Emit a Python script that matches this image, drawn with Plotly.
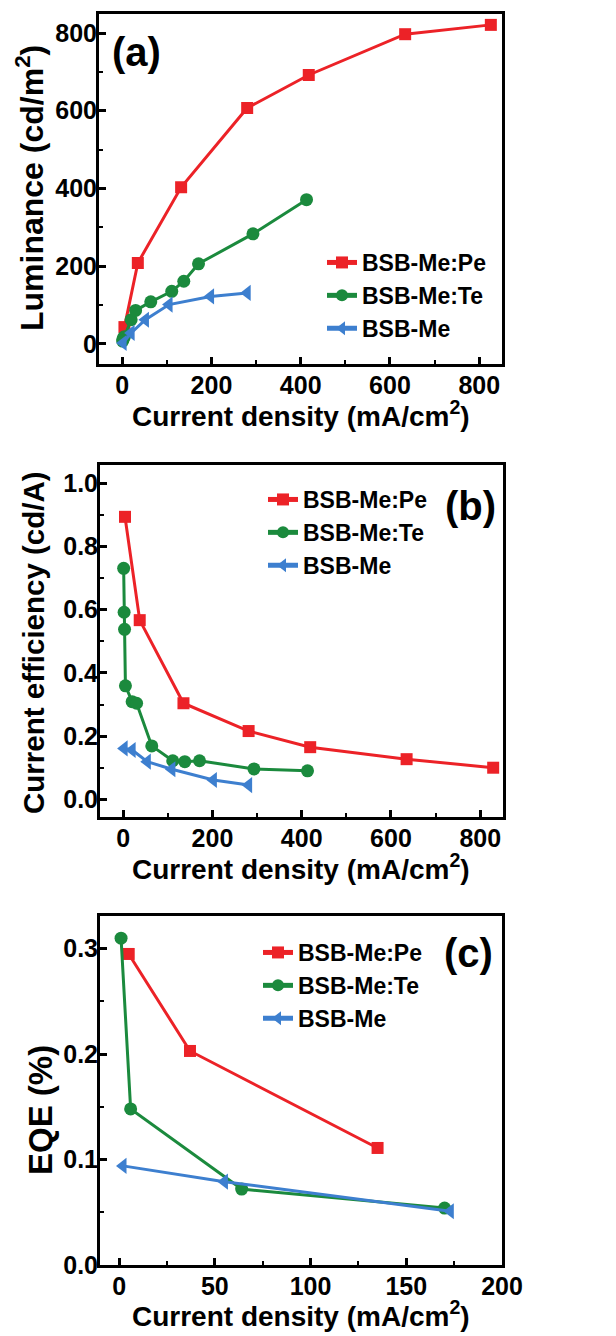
import plotly.graph_objects as go

# ---- data ----
series_names = ["BSB-Me:Pe", "BSB-Me:Te", "BSB-Me"]

# (a) Luminance vs current density
a_pe_x = [5, 35, 132, 280, 418, 634, 826]
a_pe_y = [43, 208, 403, 607, 692, 797, 821]
a_te_x = [1, 2, 3, 5, 20, 30, 64, 111, 138, 171, 293, 413]
a_te_y = [7, 12, 16, 18, 62, 86, 108, 135, 161, 206, 283, 371]
a_me_x = [2, 20, 52, 105, 198, 280]
a_me_y = [2, 28, 62, 101, 122, 131]

# (b) Current efficiency vs current density
b_pe_x = [4, 37, 135, 281, 419, 635, 829]
b_pe_y = [0.894, 0.567, 0.304, 0.216, 0.165, 0.127, 0.100]
b_te_x = [1, 2, 3, 5, 20, 30, 64, 111, 138, 171, 293, 413]
b_te_y = [0.731, 0.592, 0.538, 0.359, 0.309, 0.304, 0.169, 0.122, 0.119, 0.122, 0.096, 0.090]
b_me_x = [2, 20, 54, 109, 202, 281]
b_me_y = [0.161, 0.156, 0.119, 0.095, 0.061, 0.045]

# (c) EQE vs current density
c_pe_x = [5, 37, 135]
c_pe_y = [0.295, 0.203, 0.111]
c_te_x = [1, 6, 64, 170]
c_te_y = [0.310, 0.148, 0.072, 0.054]
c_me_x = [2, 55, 173]
c_me_y = [0.094, 0.079, 0.051]

panel_labels = ["(a)", "(b)", "(c)"]
y_titles = ["Luminance (cd/m<sup>2</sup>)", "Current efficiency (cd/A)", "EQE (%)"]
x_title = "Current density (mA/cm<sup>2</sup>)"

# ---- styling ----
colors = ["#ec2227", "#1b8a3d", "#3d7fcf"]
symbols = ["square", "circle", "triangle-left"]
msizes = [12, 13, 14]
FONT = "Liberation Sans, Arial, sans-serif"

# page body has an 8px margin; figure coordinates = page coordinates - 8
OFF = 8
W, H = 600, 1336
def px_x(p):
    return (p - OFF) / W
def px_y(p):
    return 1 - (p - OFF) / H

# plot boxes in page pixels: (left, right, top, bottom)
boxes = [(99, 502, 14, 364), (100, 503, 465, 817), (100, 502, 916, 1265)]

fig = go.Figure()

data = [
    [(a_pe_x, a_pe_y), (a_te_x, a_te_y), (a_me_x, a_me_y)],
    [(b_pe_x, b_pe_y), (b_te_x, b_te_y), (b_me_x, b_me_y)],
    [(c_pe_x, c_pe_y), (c_te_x, c_te_y), (c_me_x, c_me_y)],
]
legend_ids = ["legend", "legend2", "legend3"]

for p in range(3):
    xa = "x" if p == 0 else f"x{p+1}"
    ya = "y" if p == 0 else f"y{p+1}"
    for s in range(3):
        xs, ys = data[p][s]
        fig.add_trace(go.Scatter(
            x=xs, y=ys, mode="lines+markers", name=series_names[s],
            line=dict(color=colors[s], width=3),
            marker=dict(symbol=symbols[s], size=msizes[s], color=colors[s]),
            xaxis=xa, yaxis=ya, legend=legend_ids[p],
        ))

axis_common = dict(
    showline=True, linecolor="black", linewidth=3, mirror=True,
    ticks="inside", ticklen=7, tickwidth=2.5, tickcolor="black",
    showgrid=False, zeroline=False, automargin=False,
    tickfont=dict(family=FONT, size=25, color="black", weight="bold"),
)
minor_common = dict(ticks="inside", ticklen=4, tickwidth=2, tickcolor="black", showgrid=False)

x_ranges = [[-52, 851], [-52, 851], [-10, 200]]
x_dticks = [200, 200, 50]
y_ranges = [[-52, 849], [-0.056, 1.058], [0, 0.331]]
y_dticks = [200, 0.2, 0.1]
y_formats = ["d", ".1f", ".1f"]

layout = dict(
    width=W, height=H, margin=dict(l=0, r=0, t=0, b=0),
    paper_bgcolor="white", plot_bgcolor="white",
    font=dict(family=FONT, color="black"),
)

for p in range(3):
    l, r, t, b = boxes[p]
    xkey = "xaxis" if p == 0 else f"xaxis{p+1}"
    ykey = "yaxis" if p == 0 else f"yaxis{p+1}"
    xa_anchor = "y" if p == 0 else f"y{p+1}"
    ya_anchor = "x" if p == 0 else f"x{p+1}"
    layout[xkey] = dict(
        axis_common, domain=[px_x(l), px_x(r)], anchor=xa_anchor,
        range=x_ranges[p], dtick=x_dticks[p], tick0=0, ticklabelstandoff=-3,
        minor=dict(minor_common, dtick=x_dticks[p] / 2),
    )
    layout[ykey] = dict(
        axis_common, domain=[px_y(b), px_y(t)], anchor=ya_anchor,
        range=y_ranges[p], dtick=y_dticks[p], tick0=0, tickformat=y_formats[p],
        ticklabelstandoff=-6,
        minor=dict(minor_common, dtick=y_dticks[p] / 2),
    )

# legends (page pixel positions of top-left)
leg_pos = [(322, 241), (263, 478), (258, 931)]
for p in range(3):
    key = "legend" if p == 0 else f"legend{p+1}"
    lx, ly = leg_pos[p]
    layout[key] = dict(
        x=px_x(lx), y=px_y(ly), xanchor="left", yanchor="top",
        bgcolor="rgba(0,0,0,0)", borderwidth=0, tracegroupgap=0,
        font=dict(family=FONT, size=23, color="black", weight="bold"),
        itemsizing="constant",
    )

fig.update_layout(**layout)

# panel labels (page pixel centres)
label_pos = [(136, 52), (470, 506), (468, 953)]
for p in range(3):
    lx, ly = label_pos[p]
    fig.add_annotation(
        text=panel_labels[p], x=px_x(lx), y=px_y(ly), xref="paper", yref="paper",
        showarrow=False, xanchor="center", yanchor="middle",
        font=dict(family=FONT, size=40, color="black", weight="bold"),
    )

# axis titles (page pixel centres)
xt_pos = [(301, 414), (301, 867), (301, 1314)]
yt_pos = [(30, 188), (33, 643), (40, 1110)]
yt_sizes = [32, 29.5, 33]
for p in range(3):
    x0, y0 = xt_pos[p]
    fig.add_annotation(
        text=x_title, x=px_x(x0), y=px_y(y0), xref="paper", yref="paper",
        showarrow=False, xanchor="center", yanchor="middle",
        font=dict(family=FONT, size=28, color="black", weight="bold"),
    )
    x1, y1 = yt_pos[p]
    fig.add_annotation(
        text=y_titles[p], x=px_x(x1), y=px_y(y1), xref="paper", yref="paper",
        showarrow=False, xanchor="center", yanchor="middle", textangle=-90,
        font=dict(family=FONT, size=yt_sizes[p], color="black", weight="bold"),
    )

fig.write_html("out.html")
